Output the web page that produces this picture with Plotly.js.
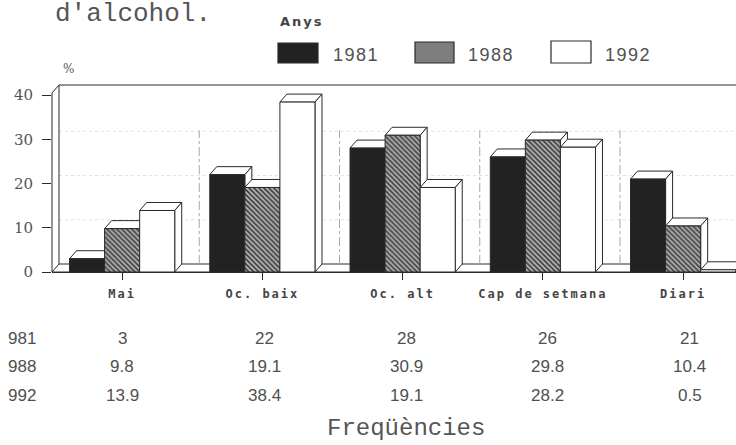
<!DOCTYPE html>
<html>
<head>
<meta charset="utf-8">
<script src="https://cdn.plot.ly/plotly-3.0.1.min.js"></script>
<style>html,body{margin:0;padding:0;background:#fff;}#chart{width:736px;height:445px;}</style>
</head>
<body>
<div id="chart"></div>
<script>
// ---- data ----
const categories = ['Mai', 'Oc. baix', 'Oc. alt', 'Cap de setmana', 'Diari'];
const years = ['1981', '1988', '1992'];
const v1981 = [3, 22, 28, 26, 21];
const v1988 = [9.8, 19.1, 30.9, 29.8, 10.4];
const v1992 = [13.9, 38.4, 19.1, 28.2, 0.5];
const rowLabels = ['981', '988', '992'];
const yTickVals = [0, 10, 20, 30, 40];
const titleText = "d'alcohol.";
const legendTitle = 'Anys';
const yUnit = '%';
const xTitle = 'Freqüències';

// ---- geometry (layout) ----
const W = 736, H = 445;
const L = 52, T = 85, BASE = 272;           // pixel of y = 0
const plotW = W - L, plotH = BASE - T;
const pxX = 140.25, pxY = 4.425;
const xr0 = -0.5, xr1 = xr0 + plotW / pxX;
const yr1 = plotH / pxY;
const dxU = 7 / pxX, dyU = 8 / pxY;          // 3D depth in data units
const barW = 0.25;

const pX = v => (v - xr0) / (xr1 - xr0);     // data x -> paper
const pY = v => v / yr1;                     // data y -> paper
const ppx = p => (p - L) / plotW;            // pixel x -> paper
const ppy = p => (BASE - p) / plotH;         // pixel y -> paper

const series = [v1981, v1988, v1992];
const xIdx = categories.map((c, i) => i);

const lineCol = '#2a2a2a';
const markers = [
  {color: '#222222', line: {color: lineCol, width: 1}},
  {color: '#9a9a9a', line: {color: lineCol, width: 1},
   pattern: {shape: '\\', fgcolor: '#3a3a3a', bgcolor: '#b5b5b5', size: 3.5, solidity: 0.45}},
  {color: '#ffffff', line: {color: lineCol, width: 1}}
];

const traces = series.map((vals, k) => ({
  type: 'bar', x: xIdx, y: vals, name: years[k],
  width: barW, offset: -1.5 * barW + k * barW,
  marker: markers[k], showlegend: false, hoverinfo: 'skip'
}));

const shapes = [];
const fr = {color: lineCol, width: 1};
// floor
shapes.push({type: 'path', xref: 'paper', yref: 'paper', layer: 'below',
  path: `M0,0 L1,0 L1,${pY(dyU)} L${pX(xr0 + dxU)},${pY(dyU)} Z`,
  fillcolor: '#ffffff', line: fr});
// back wall gridlines (very faint in the scan)
[10, 20, 30].forEach(v => shapes.push({type: 'line', xref: 'paper', yref: 'paper', layer: 'below',
  x0: pX(xr0 + dxU), x1: 1, y0: pY(v + dyU), y1: pY(v + dyU),
  line: {color: '#e2e2e2', width: 1, dash: 'dot'}}));
// faint vertical separators on back wall
for (let i = 0; i < categories.length - 1; i++) {
  shapes.push({type: 'line', xref: 'x', yref: 'y', layer: 'below',
    x0: i + 0.5 + dxU, x1: i + 0.5 + dxU, y0: dyU, y1: 32,
    line: {color: '#a8a8a8', width: 1, dash: 'dashdot'}});
}
// back wall left edge and top edge
shapes.push({type: 'path', xref: 'paper', yref: 'paper', layer: 'below',
  path: `M${pX(xr0 + dxU)},${pY(dyU)} L${pX(xr0 + dxU)},1 L1,1`, line: fr});
// front y axis line and connector
shapes.push({type: 'path', xref: 'paper', yref: 'paper', layer: 'above',
  path: `M0,0 L0,${pY(yr1 - dyU)} L${pX(xr0 + dxU)},1`, line: fr});
// bar top and side faces
categories.forEach((c, i) => {
  series.forEach((vals, k) => {
    const h = vals[i];
    const x0 = i - 1.5 * barW + k * barW, x1 = x0 + barW;
    shapes.push({type: 'path', xref: 'x', yref: 'y', layer: 'below',
      path: `M${x0},${h} L${x1},${h} L${x1 + dxU},${h + dyU} L${x0 + dxU},${h + dyU} Z`,
      fillcolor: '#ffffff', line: fr});
    shapes.push({type: 'path', xref: 'x', yref: 'y', layer: 'below',
      path: `M${x1},0 L${x1},${h} L${x1 + dxU},${h + dyU} L${x1 + dxU},${dyU} Z`,
      fillcolor: '#ffffff', line: fr});
  });
});
// legend swatches
const sw = [[278, 318, 43, 63], [415, 454, 42, 63], [551, 591, 41, 63]];
const swFill = ['#222222', '#7e7e7e', '#ffffff'];
sw.forEach((s, k) => shapes.push({type: 'rect', xref: 'paper', yref: 'paper',
  x0: ppx(s[0]), x1: ppx(s[1]), y0: ppy(s[3]), y1: ppy(s[2]),
  fillcolor: swFill[k], line: {color: lineCol, width: 1.2}}));

const ann = [];
const txt = '#505050';
ann.push({text: titleText, xref: 'paper', yref: 'paper', x: ppx(53), y: ppy(14),
  xanchor: 'left', yanchor: 'middle', showarrow: false,
  font: {family: 'Liberation Mono', size: 26, color: '#555'}});
ann.push({text: `<span style="letter-spacing:2px">${legendTitle}</span>`, xref: 'paper', yref: 'paper',
  x: ppx(278), y: ppy(21), xanchor: 'left', yanchor: 'middle', showarrow: false,
  font: {family: 'DejaVu Sans', size: 13, color: '#444', weight: 'bold'}});
const legX = [331, 466, 603];
years.forEach((yv, k) => ann.push({text: `<span style="letter-spacing:1.5px">${yv}</span>`,
  xref: 'paper', yref: 'paper', x: ppx(legX[k]), y: ppy(55),
  xanchor: 'left', yanchor: 'middle', showarrow: false,
  font: {family: 'Liberation Sans', size: 18, color: txt}}));
ann.push({text: yUnit, xref: 'paper', yref: 'paper', x: ppx(68), y: ppy(69),
  xanchor: 'center', yanchor: 'middle', showarrow: false,
  font: {family: 'DejaVu Serif', size: 12, color: '#555'}});
const rowY = [338, 366, 395];
series.forEach((vals, k) => {
  ann.push({text: rowLabels[k], xref: 'paper', yref: 'paper', x: ppx(6), y: ppy(rowY[k]),
    xanchor: 'left', yanchor: 'middle', showarrow: false,
    font: {family: 'Liberation Sans', size: 17, color: txt}});
  vals.forEach((v, i) => ann.push({text: String(v), xref: 'x', yref: 'paper', x: i, xshift: 1.7 * i,
    y: ppy(rowY[k]), xanchor: 'center', yanchor: 'middle', showarrow: false,
    font: {family: 'Liberation Sans', size: 17, color: txt}}));
});
ann.push({text: xTitle, xref: 'paper', yref: 'paper', x: ppx(406), y: ppy(428),
  xanchor: 'center', yanchor: 'middle', showarrow: false,
  font: {family: 'Liberation Mono', size: 24, color: '#555'}});

const layout = {
  width: W, height: H,
  margin: {l: L, r: 0, t: T, b: H - BASE, pad: 0},
  paper_bgcolor: '#ffffff', plot_bgcolor: 'rgba(0,0,0,0)',
  barmode: 'overlay',
  showlegend: false,
  xaxis: {range: [xr0, xr1], tickvals: xIdx,
    ticktext: categories.map(c => `<b><span style="letter-spacing:2px">${c}</span></b>`),
    showgrid: false, zeroline: false, showline: true, linecolor: lineCol, linewidth: 1,
    ticks: 'outside', ticklen: 7, tickcolor: lineCol, tickwidth: 1, ticklabelstandoff: 4,
    tickfont: {family: 'DejaVu Sans Mono', size: 12, color: '#444'}, fixedrange: true},
  yaxis: {range: [0, yr1], tickvals: yTickVals, ticktext: yTickVals.map(String),
    showgrid: false, zeroline: false, showline: false,
    ticks: 'outside', ticklen: 9, tickcolor: lineCol, tickwidth: 1, ticklabelstandoff: 6,
    tickfont: {family: 'DejaVu Serif', size: 15, color: '#555'}, fixedrange: true},
  shapes: shapes,
  annotations: ann
};

Plotly.newPlot('chart', traces, layout, {staticPlot: true, displayModeBar: false});
</script>
</body>
</html>
